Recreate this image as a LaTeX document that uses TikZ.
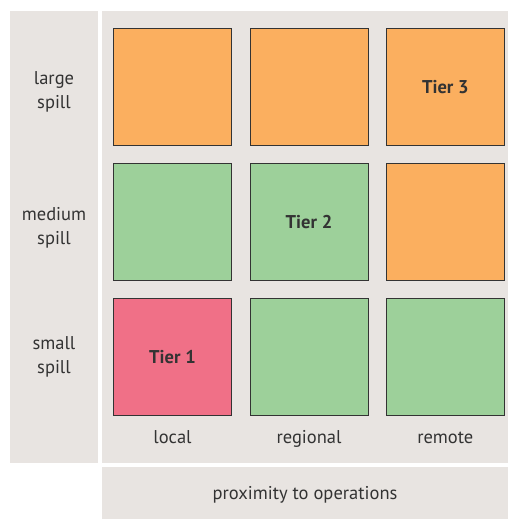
\documentclass[tikz,border=0pt]{standalone}
\usepackage{fontspec}
\setmainfont{PT Sans}
\definecolor{panelgray}{HTML}{E8E4E1}
\definecolor{spillorange}{HTML}{FBAF5F}
\definecolor{spillgreen}{HTML}{9DD09A}
\definecolor{spillpink}{HTML}{F07087}
\definecolor{inkgray}{HTML}{333333}
\tikzset{
  tierbox/.style={draw=inkgray, line width=.9pt, minimum width=118pt, minimum height=117pt, inner sep=0pt, text=inkgray, font=\fontsize{18.5}{22}\selectfont\bfseries},
  axislabel/.style={text=inkgray, align=center, anchor=base, inner sep=0pt, font=\fontsize{18.5}{24}\selectfont}
}
\begin{document}
\begin{tikzpicture}[x=1pt, y=-1pt]
  \useasboundingbox (0, 0) rectangle (508, 519);

    %%panels
    \fill[panelgray](10, 11) rectangle (98, 462.7);
    \fill[panelgray](102, 11) rectangle (508, 462.7);
    \fill[panelgray](102, 466.7) rectangle (508, 519);

    %%row large
    \node[tierbox, fill=spillorange] (large-local) at (172.5, 87.3){};
    \node[tierbox, fill=spillorange] (large-regional) at (309, 87.3){};
    \node[tierbox, fill=spillorange] (large-remote) at (445.3, 87.3){Tier 3};

    %%row medium
    \node[tierbox, fill=spillgreen] (medium-local) at (172.5, 221.8){};
    \node[tierbox, fill=spillgreen] (medium-regional) at (309, 221.8){Tier 2};
    \node[tierbox, fill=spillorange] (medium-remote) at (445.3, 221.8){};

    %%row small
    \node[tierbox, fill=spillpink] (small-local) at (172.5, 356.7){Tier 1};
    \node[tierbox, fill=spillgreen] (small-regional) at (309, 356.7){};
    \node[tierbox, fill=spillgreen] (small-remote) at (445.3, 356.7){};

    %%spill labels (base = last line)
    \node[axislabel] (large) at (54, 108){large\\spill};
    \node[axislabel] (medium) at (54, 244.5){medium\\spill};
    \node[axislabel] (small) at (54, 373.3){small\\spill};

    %%proximity labels
    \node[axislabel] (local) at (172.5, 443){local};
    \node[axislabel] (regional) at (309, 443){regional};
    \node[axislabel] (remote) at (445.3, 443){remote};

    \node[axislabel] (proximity) at (305, 499.3){proximity to operations};

\end{tikzpicture}
\end{document}
